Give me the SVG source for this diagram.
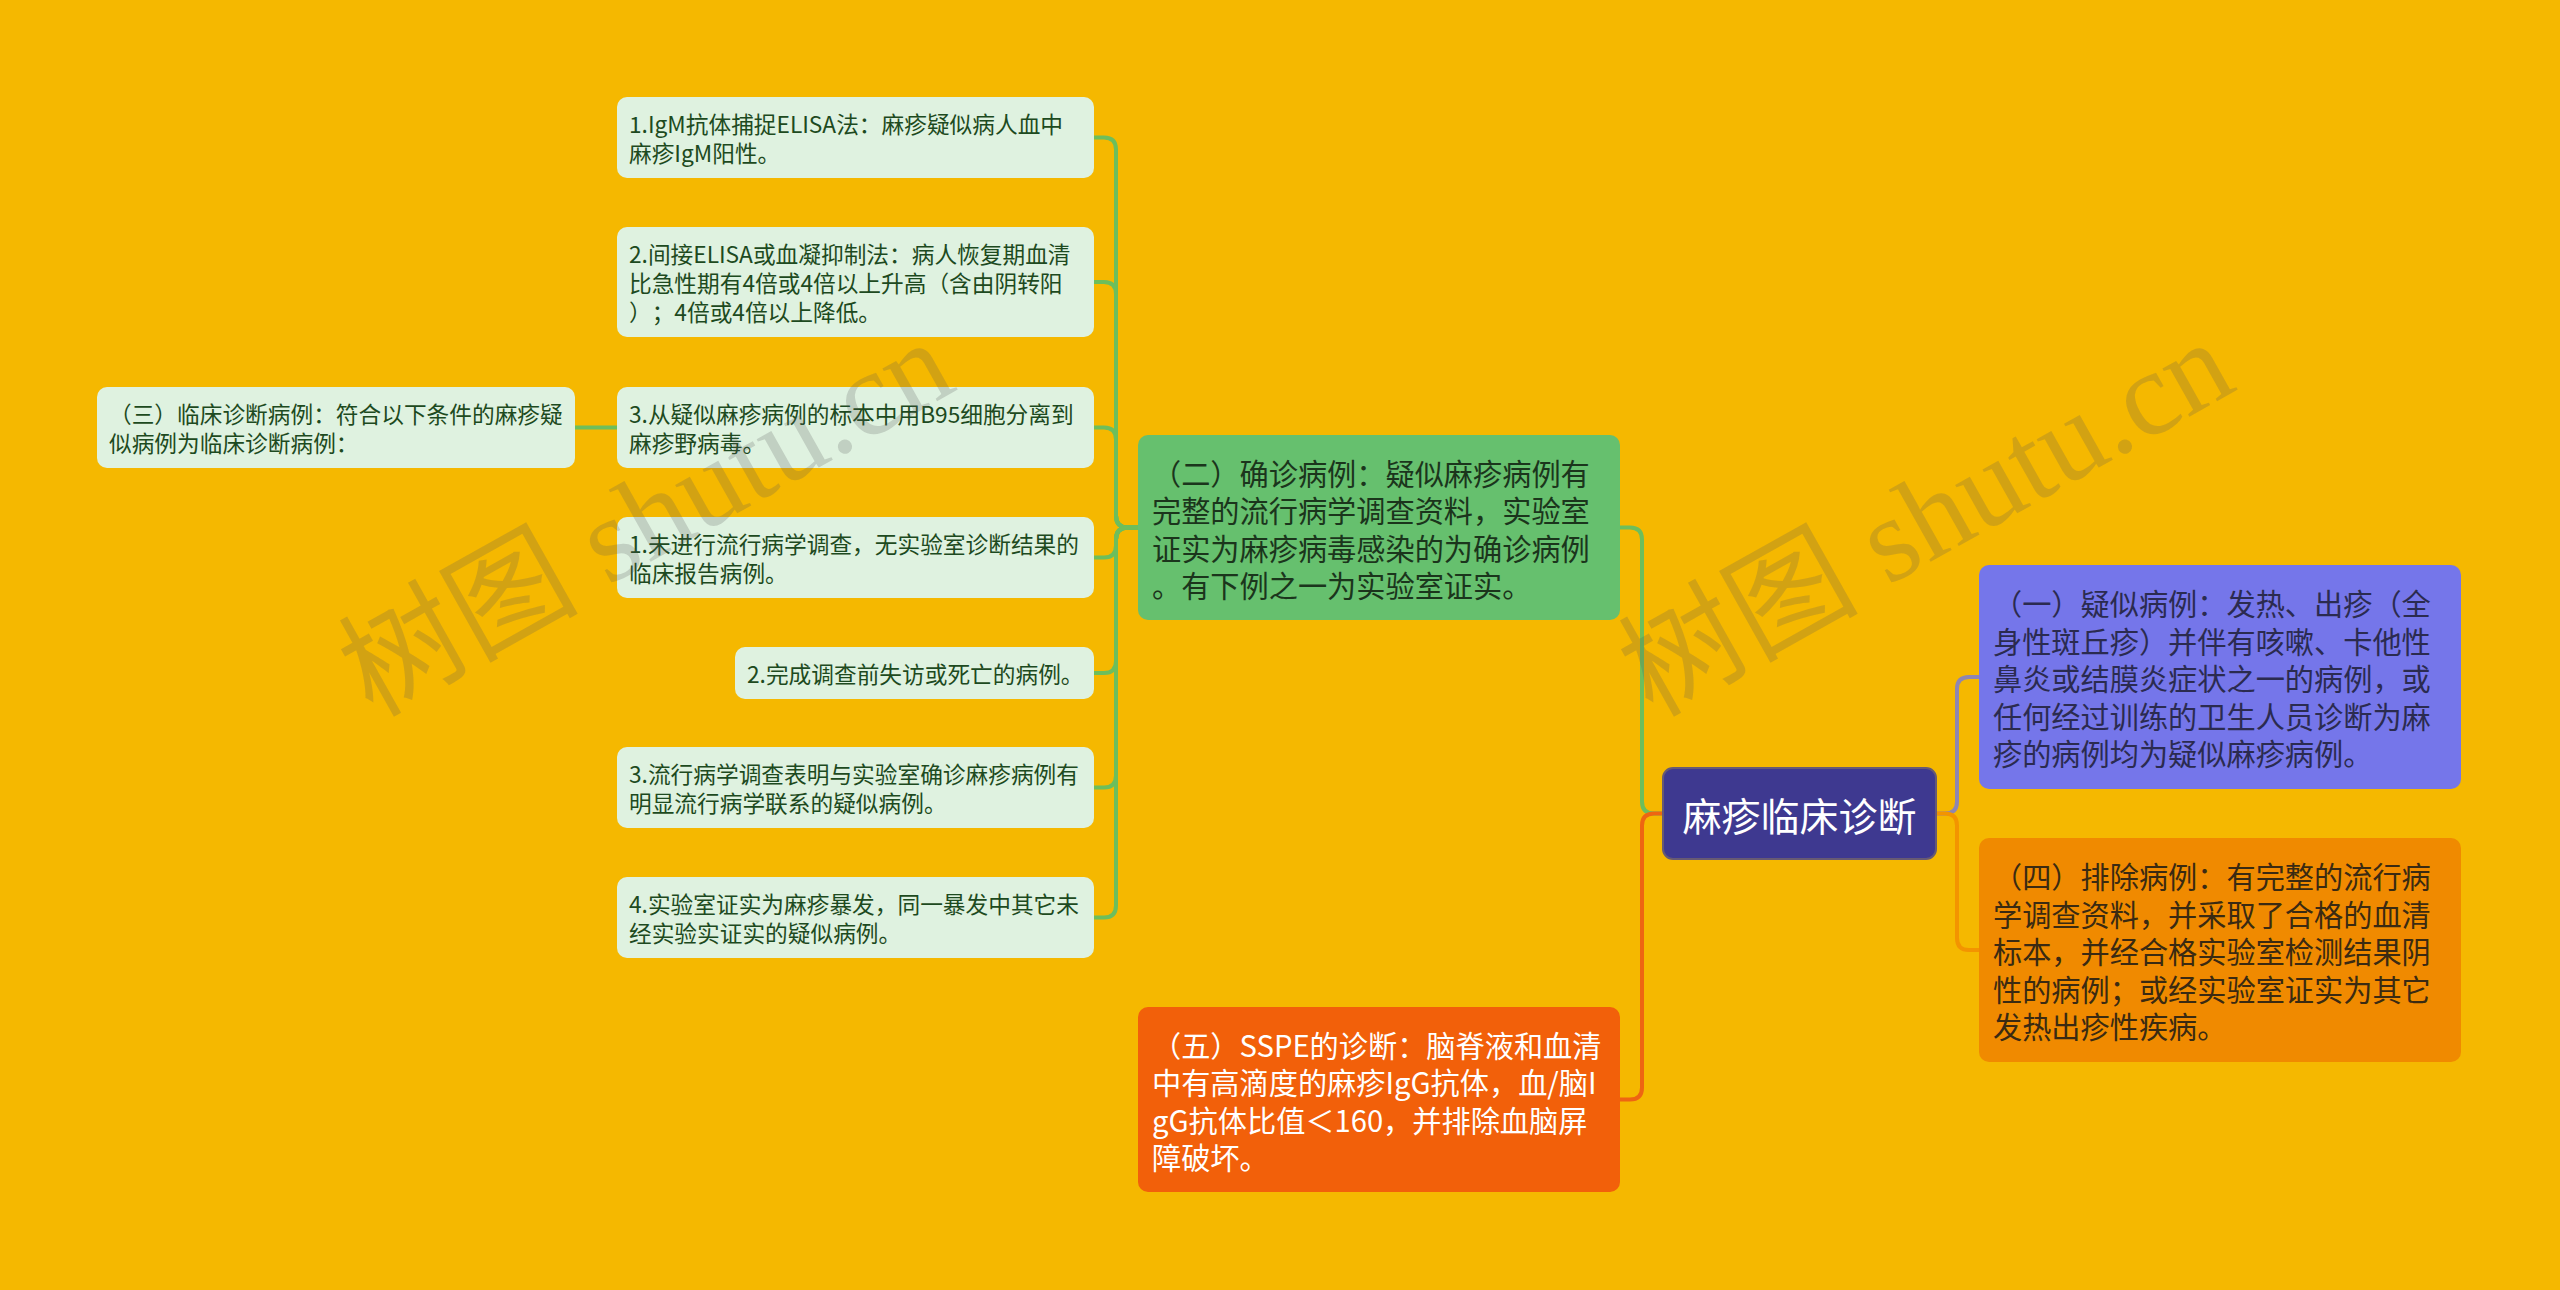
<svg xmlns="http://www.w3.org/2000/svg" width="2560" height="1290" viewBox="0 0 2560 1290">
<style>
.bg{fill:#F5B800}
.lt{fill:#DFF2E0}
text{text-spacing-trim:space-all}
.lt-t{font-family:"Noto Sans CJK SC","Noto Sans",sans-serif;font-size:22.7px;fill:#1D4A20;dominant-baseline:central}
.big-t{font-family:"Noto Sans CJK SC","Noto Sans",sans-serif;font-size:29.2px;dominant-baseline:central}
.root-t{font-family:"Noto Sans CJK SC","Noto Sans",sans-serif;font-size:39px;fill:#FFFFFF;dominant-baseline:central;text-anchor:middle}
.c{fill:none;stroke-width:4;stroke-linecap:round;stroke-linejoin:round}
.cg{stroke:#6DBE5C}
.cr{stroke:#EE6512}
.cp{stroke:#8E86B2}
.co{stroke:#F39400}
.wm{font-family:"Liberation Serif","Noto Sans CJK SC",serif;font-size:120px;fill:#555555;fill-opacity:0.22;text-anchor:middle;dominant-baseline:central}
</style>
<rect class="bg" x="0" y="0" width="2560" height="1290"/>

<g id="connectors">
  <path class="c cg" d="M575 427.5 H617"/>
  <path class="c cg" d="M1138 527.5 H1128 Q1116 527.5 1116 515.5 V149.5 Q1116 137.5 1104 137.5 H1094"/>
  <path class="c cg" d="M1138 527.5 H1128 Q1116 527.5 1116 515.5 V294 Q1116 282 1104 282 H1094"/>
  <path class="c cg" d="M1138 527.5 H1128 Q1116 527.5 1116 515.5 V439.5 Q1116 427.5 1104 427.5 H1094"/>
  <path class="c cg" d="M1138 527.5 H1128 Q1116 527.5 1116 539.5 V545.5 Q1116 557.5 1104 557.5 H1094"/>
  <path class="c cg" d="M1138 527.5 H1128 Q1116 527.5 1116 539.5 V661 Q1116 673 1104 673 H1094"/>
  <path class="c cg" d="M1138 527.5 H1128 Q1116 527.5 1116 539.5 V775.5 Q1116 787.5 1104 787.5 H1094"/>
  <path class="c cg" d="M1138 527.5 H1128 Q1116 527.5 1116 539.5 V905.5 Q1116 917.5 1104 917.5 H1094"/>
  <path class="c cg" d="M1663 813.5 H1654 Q1642 813.5 1642 801.5 V539.5 Q1642 527.5 1630 527.5 H1620"/>
  <path class="c cr" d="M1663 813.5 H1654 Q1642 813.5 1642 825.5 V1087.5 Q1642 1099.5 1630 1099.5 H1620"/>
  <path class="c cp" d="M1936 813.5 H1945 Q1957 813.5 1957 801.5 V689 Q1957 677 1969 677 H1979"/>
  <path class="c co" d="M1936 813.5 H1945 Q1957 813.5 1957 825.5 V938 Q1957 950 1969 950 H1979"/>
</g>

<g id="root">
  <rect x="1663" y="768" width="273" height="91" rx="10" fill="#3E3990" stroke="#675A74" stroke-width="2"/>
  <text class="root-t" x="1799.5" y="813.5">麻疹临床诊断</text>
</g>

<g id="n-yi">
  <rect x="1979" y="565" width="482" height="224" rx="10" fill="#7576EA"/>
  <text class="big-t" fill="#2B2B50">
    <tspan x="1993" y="602">（一）疑似病例：发热、出疹（全</tspan>
    <tspan x="1993" y="639.5">身性斑丘疹）并伴有咳嗽、卡他性</tspan>
    <tspan x="1993" y="677">鼻炎或结膜炎症状之一的病例，或</tspan>
    <tspan x="1993" y="714.5">任何经过训练的卫生人员诊断为麻</tspan>
    <tspan x="1993" y="752">疹的病例均为疑似麻疹病例。</tspan>
  </text>
</g>

<g id="n-si">
  <rect x="1979" y="838" width="482" height="224" rx="10" fill="#F08A00"/>
  <text class="big-t" fill="#3A2A12">
    <tspan x="1993" y="875">（四）排除病例：有完整的流行病</tspan>
    <tspan x="1993" y="912.5">学调查资料，并采取了合格的血清</tspan>
    <tspan x="1993" y="950">标本，并经合格实验室检测结果阴</tspan>
    <tspan x="1993" y="987.5">性的病例；或经实验室证实为其它</tspan>
    <tspan x="1993" y="1025">发热出疹性疾病。</tspan>
  </text>
</g>

<g id="n-er">
  <rect x="1138" y="435" width="482" height="185" rx="10" fill="#66C06E"/>
  <text class="big-t" fill="#1B351C">
    <tspan x="1152" y="471.5">（二）确诊病例：疑似麻疹病例有</tspan>
    <tspan x="1152" y="509">完整的流行病学调查资料，实验室</tspan>
    <tspan x="1152" y="546.5">证实为麻疹病毒感染的为确诊病例</tspan>
    <tspan x="1152" y="584">。有下例之一为实验室证实。</tspan>
  </text>
</g>

<g id="n-wu">
  <rect x="1138" y="1007" width="482" height="185" rx="10" fill="#F2600A"/>
  <text class="big-t" fill="#FFFFFF">
    <tspan x="1152" y="1043.5">（五）SSPE的诊断：脑脊液和血清</tspan>
    <tspan x="1152" y="1081">中有高滴度的麻疹IgG抗体，血/脑I</tspan>
    <tspan x="1152" y="1118.5">gG抗体比值＜160，并排除血脑屏</tspan>
    <tspan x="1152" y="1156">障破坏。</tspan>
  </text>
</g>

<g id="n-a1">
  <rect class="lt" x="617" y="97" width="477" height="81" rx="10"/>
  <text class="lt-t">
    <tspan x="629" y="123">1.IgM抗体捕捉ELISA法：麻疹疑似病人血中</tspan>
    <tspan x="629" y="152">麻疹IgM阳性。</tspan>
  </text>
</g>

<g id="n-a2">
  <rect class="lt" x="617" y="227" width="477" height="110" rx="10"/>
  <text class="lt-t">
    <tspan x="629" y="253">2.间接ELISA或血凝抑制法：病人恢复期血清</tspan>
    <tspan x="629" y="282">比急性期有4倍或4倍以上升高（含由阴转阳</tspan>
    <tspan x="629" y="311">）；4倍或4倍以上降低。</tspan>
  </text>
</g>

<g id="n-a3">
  <rect class="lt" x="617" y="387" width="477" height="81" rx="10"/>
  <text class="lt-t">
    <tspan x="629" y="413">3.从疑似麻疹病例的标本中用B95细胞分离到</tspan>
    <tspan x="629" y="442">麻疹野病毒。</tspan>
  </text>
</g>

<g id="n-san">
  <rect class="lt" x="97" y="387" width="478" height="81" rx="10"/>
  <text class="lt-t">
    <tspan x="109" y="413">（三）临床诊断病例：符合以下条件的麻疹疑</tspan>
    <tspan x="109" y="442">似病例为临床诊断病例：</tspan>
  </text>
</g>

<g id="n-b1">
  <rect class="lt" x="617" y="517" width="477" height="81" rx="10"/>
  <text class="lt-t">
    <tspan x="629" y="543">1.未进行流行病学调查，无实验室诊断结果的</tspan>
    <tspan x="629" y="572">临床报告病例。</tspan>
  </text>
</g>

<g id="n-b2">
  <rect class="lt" x="735" y="647" width="359" height="52" rx="10"/>
  <text class="lt-t">
    <tspan x="747" y="673">2.完成调查前失访或死亡的病例。</tspan>
  </text>
</g>

<g id="n-b3">
  <rect class="lt" x="617" y="747" width="477" height="81" rx="10"/>
  <text class="lt-t">
    <tspan x="629" y="773">3.流行病学调查表明与实验室确诊麻疹病例有</tspan>
    <tspan x="629" y="802">明显流行病学联系的疑似病例。</tspan>
  </text>
</g>

<g id="n-b4">
  <rect class="lt" x="617" y="877" width="477" height="81" rx="10"/>
  <text class="lt-t">
    <tspan x="629" y="903">4.实验室证实为麻疹暴发，同一暴发中其它未</tspan>
    <tspan x="629" y="932">经实验实证实的疑似病例。</tspan>
  </text>
</g>

<g id="watermark">
  <text class="wm" transform="translate(646 518) rotate(-29.3)">树图 shutu.cn</text>
  <text class="wm" transform="translate(1926 518) rotate(-29.3)">树图 shutu.cn</text>
</g>
</svg>
